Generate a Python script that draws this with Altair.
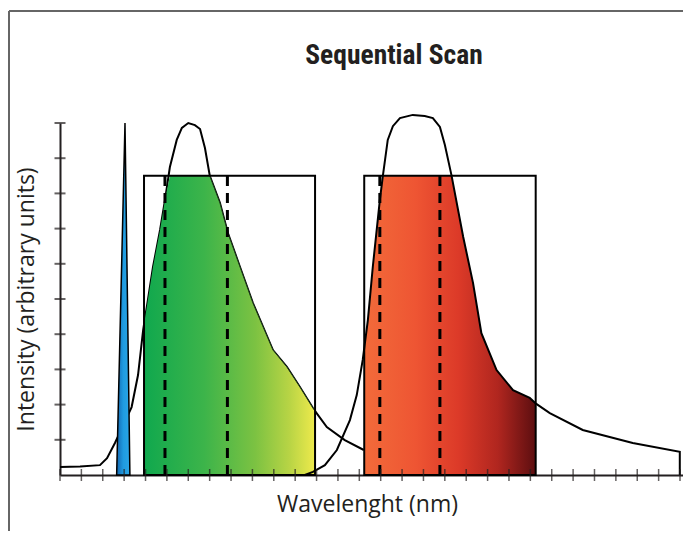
import altair as alt
import pandas as pd
import numpy as np

# ---- data (x in tick units, y in intensity units 0..10) ----
# green dye spectrum (black outline curve 1)
c1_x = [0, 0.94, 1.87, 2.20, 2.57, 2.90, 3.35, 3.65, 3.89, 4.11, 4.35, 4.68, 4.91, 5.14,
        5.46, 5.70, 6.00, 6.31, 6.55, 6.78, 7.01, 7.48, 7.85, 8.42, 9.02, 9.96, 10.61,
        11.22, 11.83, 12.48, 13.32, 14.21]
c1_y = [0.23, 0.24, 0.28, 0.48, 0.91, 1.34, 1.93, 2.84, 4.12, 4.97, 5.91, 6.96, 7.81, 8.75,
        9.52, 9.86, 10.0, 9.94, 9.83, 9.29, 8.49, 7.73, 6.88, 5.91, 4.89, 3.55, 3.07,
        2.50, 1.90, 1.36, 0.99, 0.71]
# red dye spectrum (black outline curve 2)
c2_x = [11.45, 11.83, 12.39, 12.95, 13.56, 13.88, 14.16, 14.40, 14.63, 14.96, 15.10, 15.33,
        15.57, 15.90, 16.50, 17.06, 17.44, 17.77, 18.00, 18.31, 18.86, 19.32, 19.71, 20.42,
        21.19, 21.97, 22.28, 22.91, 24.45, 26.79, 28.99, 28.99]
c2_y = [0.0, 0.09, 0.28, 0.71, 1.56, 2.27, 3.27, 4.40, 5.91, 7.81, 8.49, 9.52,
        9.91, 10.14, 10.23, 10.20, 10.14, 9.89, 9.38, 8.52, 6.76, 5.45, 4.03, 2.98,
        2.41, 2.19, 2.02, 1.76, 1.28, 0.91, 0.66, 0.0]
# laser line (blue spike)
laser_x = [2.65, 3.04, 3.27]
laser_y = [0.0, 10.0, 0.0]
# detection windows (rectangles)
win_x1 = [3.93, 14.23]
win_x2 = [11.93, 22.25]
win_top = [8.5, 8.5]
# dashed lines
dash_x = [4.91, 7.83, 14.96, 17.77]
# axis ticks
x_ticks = list(range(0, 30))
y_ticks = list(range(1, 11))

TITLE = "Sequential Scan"
X_TITLE = "Wavelenght (nm)"
Y_TITLE = "Intensity (arbitrary units)"


def clip_fill(xs, ys, x0, x1, ymax):
    xs = np.asarray(xs, float)
    ys = np.asarray(ys, float)
    px = [x0] + [x for x in xs if x0 < x < x1] + [x1]
    py = [float(np.interp(x0, xs, ys))] + [y for x, y in zip(xs, ys) if x0 < x < x1] + \
         [float(np.interp(x1, xs, ys))]
    py = [min(y, ymax) for y in py]
    return pd.DataFrame({"x": px, "y": py})


c1 = pd.DataFrame({"x": c1_x, "y": c1_y, "i": range(len(c1_x))})
c2 = pd.DataFrame({"x": c2_x, "y": c2_y, "i": range(len(c2_x))})
laser = pd.DataFrame({"x": laser_x, "y": laser_y})
green = clip_fill(c1_x, c1_y, win_x1[0], win_x2[0], win_top[0])
red = clip_fill(c2_x, c2_y, win_x1[1], win_x2[1], win_top[1])
green_edge = green[green["x"] >= 7.0].assign(i=lambda d: range(len(d)))
wins = pd.DataFrame({"x": win_x1, "x2": win_x2, "y": [0, 0], "y2": win_top})
dashes = pd.DataFrame({"x": dash_x, "y": [0] * 4, "y2": [8.5] * 4})
xt = pd.DataFrame({"x": x_ticks, "y": [0] * len(x_ticks)})
yt = pd.DataFrame({"x": [0] * len(y_ticks), "y": y_ticks})
dummy = pd.DataFrame({"a": [0]})

TXT = "#231f20"
W, H = 623, 352
xscale = alt.Scale(domain=[0, 29.14], nice=False, zero=False)
yscale = alt.Scale(domain=[0, 10], nice=False, zero=False)
xaxis = alt.Axis(title=X_TITLE, labels=False, ticks=False, grid=False, domainWidth=2,
                 domainColor=TXT, titleFont="Open Sans", titleFontSize=23,
                 titleFontWeight="normal", titleColor=TXT, titlePadding=18, titleX=307)
yaxis = alt.Axis(title=Y_TITLE, labels=False, ticks=False, grid=False, domainWidth=2,
                 domainColor=TXT, titleFont="Open Sans", titleFontSize=23,
                 titleFontWeight="normal", titleColor=TXT, titlePadding=22)


def X(f="x"):
    return alt.X(f"{f}:Q", scale=xscale, axis=xaxis)


def Y(f="y"):
    return alt.Y(f"{f}:Q", scale=yscale, axis=yaxis)


green_grad = alt.Gradient(gradient="linear", x1=0, x2=1, y1=0, y2=0, stops=[
    alt.GradientStop(color="#10a84e", offset=0),
    alt.GradientStop(color="#3cb44a", offset=0.35),
    alt.GradientStop(color="#7cc242", offset=0.65),
    alt.GradientStop(color="#b8d445", offset=0.85),
    alt.GradientStop(color="#eeea4c", offset=1)])
red_grad = alt.Gradient(gradient="linear", x1=0, x2=1, y1=0, y2=0, stops=[
    alt.GradientStop(color="#f26b3a", offset=0),
    alt.GradientStop(color="#ee5533", offset=0.3),
    alt.GradientStop(color="#dc3a28", offset=0.55),
    alt.GradientStop(color="#b0261f", offset=0.78),
    alt.GradientStop(color="#5c0e10", offset=1)])
blue_grad = alt.Gradient(gradient="linear", x1=0, x2=1, y1=0, y2=0, stops=[
    alt.GradientStop(color="#1466b0", offset=0),
    alt.GradientStop(color="#1f9be0", offset=0.5),
    alt.GradientStop(color="#2aa6e6", offset=1)])

border_left = alt.Chart(dummy).mark_rule(color="#666", strokeWidth=2).encode(
    x=alt.value(-51), y=alt.value(-112), y2=alt.value(430))
border_top = alt.Chart(dummy).mark_rule(color="#666", strokeWidth=2).encode(
    x=alt.value(-51), x2=alt.value(W + 10), y=alt.value(-112))
title = alt.Chart(dummy).mark_text(
    text=TITLE, font="Liberation Sans Narrow, Roboto Condensed, Liberation Sans",
    fontSize=27.5, fontWeight="bold", color=TXT, align="center", baseline="alphabetic"
).encode(x=alt.value(334), y=alt.value(-59))

line1 = alt.Chart(c1).mark_line(color="black", strokeWidth=2).encode(
    x=X(), y=Y(), order="i:Q")
laser_area = alt.Chart(laser).mark_area(fill=blue_grad, stroke="black", strokeWidth=1.5).encode(
    x=X(), y=Y())
green_area = alt.Chart(green).mark_area(fill=green_grad).encode(x=X(), y=Y())
green_line = alt.Chart(green_edge).mark_line(color="#1a3a1a", strokeWidth=1).encode(
    x=X(), y=Y(), order="i:Q")
red_area = alt.Chart(red).mark_area(fill=red_grad).encode(x=X(), y=Y())
line2 = alt.Chart(c2).mark_line(color="black", strokeWidth=2).encode(
    x=X(), y=Y(), order="i:Q")
rects = alt.Chart(wins).mark_rect(fillOpacity=0, stroke="black", strokeWidth=2).encode(
    x=X(), x2="x2:Q", y=Y(), y2="y2:Q")
dash = alt.Chart(dashes).mark_rule(color="black", strokeWidth=3, strokeDash=[10, 7]).encode(
    x=X(), y=Y(), y2="y2:Q")
xtick = alt.Chart(xt).mark_tick(orient="vertical", size=12, thickness=1.5, color=TXT).encode(
    x=X(), y=Y())
ytick = alt.Chart(yt).mark_tick(orient="horizontal", size=11, thickness=2, color=TXT).encode(
    x=X(), y=Y())

chart = alt.layer(
    border_left, border_top, title, line1, laser_area, green_area, green_line, red_area, line2,
    rects, dash, xtick, ytick
).properties(
    width=W, height=H,
    autosize=alt.AutoSizeParams(type="none"),
    padding={"left": 52, "top": 115, "right": 0, "bottom": 56},
).configure(
    background="white",
    view=alt.ViewConfig(stroke="transparent", strokeWidth=0),
)

chart.save("out.html", embed_options={"renderer": "svg", "actions": False})
